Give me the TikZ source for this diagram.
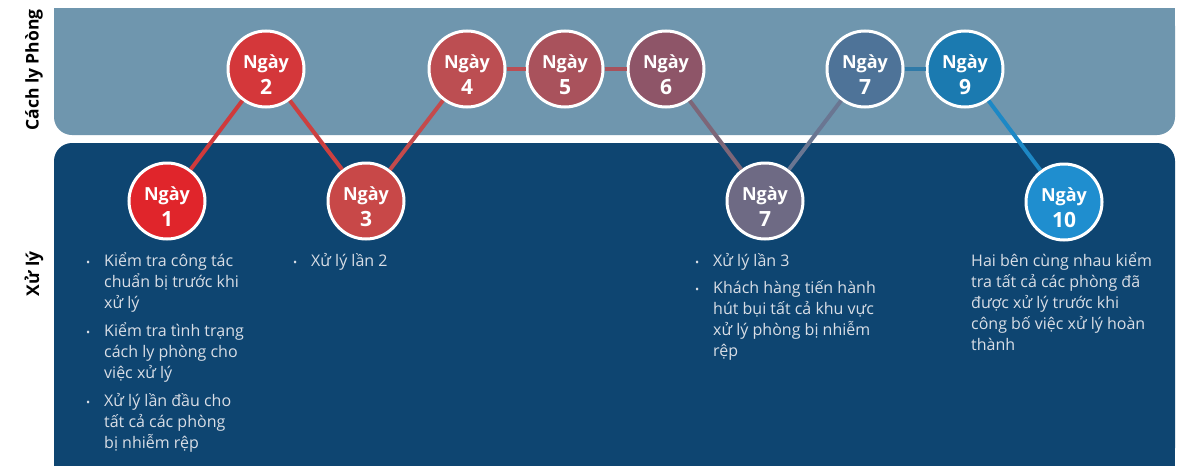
\documentclass[tikz,border=0pt]{standalone}
\usepackage{fontspec}
\setmainfont{Open Sans}
\definecolor{topband}{HTML}{6F96AE}
\definecolor{botband}{HTML}{0E4571}
\definecolor{txtc}{HTML}{D9DEE6}
\definecolor{c1}{HTML}{E0252B}
\definecolor{c2}{HTML}{D4373A}
\definecolor{c3}{HTML}{C84848}
\definecolor{c4}{HTML}{BC4E52}
\definecolor{c5}{HTML}{A9525C}
\definecolor{c6}{HTML}{8E5568}
\definecolor{c7b}{HTML}{6E6A84}
\definecolor{c7t}{HTML}{4E7398}
\definecolor{c9}{HTML}{1B7AB0}
\definecolor{c10}{HTML}{1F8ECF}
\definecolor{l12}{HTML}{D03A3C}
\definecolor{l23}{HTML}{CC4040}
\definecolor{l34}{HTML}{C44A4C}
\definecolor{l45}{HTML}{BB4E54}
\definecolor{l56}{HTML}{A8525C}
\definecolor{l67}{HTML}{7D6678}
\definecolor{l77}{HTML}{6A7692}
\definecolor{l79}{HTML}{2F7AA8}
\definecolor{l910}{HTML}{1D88C5}
\newcommand{\topstrut}{\rule{0pt}{16pt}}
\newcommand{\dtext}[1]{{\fontsize{18}{20}\selectfont Ngày}\\[5pt]{\fontsize{21}{22}\selectfont #1}}
\begin{document}
\begin{tikzpicture}[x=1pt,y=-1pt,
  day/.style={circle,draw=white,line width=3pt,minimum size=76pt,inner sep=0pt,
    text=white,align=center,font=\bfseries,text height=50pt,text depth=0pt},
  link/.style={line width=4pt},
  bul/.style={anchor=base west,inner sep=0pt,text=txtc,font=\fontsize{11}{12}\selectfont},
  desc/.style={anchor=north west,inner sep=0pt,text=txtc,align=left,
    font=\fontsize{16}{21}\selectfont},
  side/.style={rotate=90,font=\fontsize{17.5}{19}\selectfont\bfseries,text=black,inner sep=0pt}
]
\useasboundingbox (0,0) rectangle (1200,466);
\fill[white] (0,0) rectangle (1200,466);
% bands
\fill[topband,rounded corners=18pt] (54,8) rectangle (1175,135);
\fill[topband] (54,8) rectangle (1175,60);
\fill[botband,rounded corners=18pt] (54,143) rectangle (1175,466);
\fill[botband] (54,300) rectangle (1175,466);
% side labels
\node[side] (lab1) at (34,70) {Cách ly Phòng};
\node[side] (lab2) at (34,274) {Xử lý};
% day nodes
\node[day,fill=c1] (d1) at (167,201) {\dtext{1}};
\node[day,fill=c2] (d2) at (266,69) {\dtext{2}};
\node[day,fill=c3] (d3) at (366,201) {\dtext{3}};
\node[day,fill=c4] (d4) at (467,69) {\dtext{4}};
\node[day,fill=c5] (d5) at (565,69) {\dtext{5}};
\node[day,fill=c6] (d6) at (666,69) {\dtext{6}};
\node[day,fill=c7b] (d7b) at (765,201) {\dtext{7}};
\node[day,fill=c7t] (d7t) at (865,69) {\dtext{7}};
\node[day,fill=c9] (d9) at (965,69) {\dtext{9}};
\node[day,fill=c10] (d10) at (1064,202) {\dtext{10}};
% links
\draw[link,l12] (d1) -- (d2);
\draw[link,l23] (d2) -- (d3);
\draw[link,l34] (d3) -- (d4);
\draw[link,l45] (d4) -- (d5);
\draw[link,l56] (d5) -- (d6);
\draw[link,l67] (d6) -- (d7b);
\draw[link,l77] (d7b) -- (d7t);
\draw[link,l79] (d7t) -- (d9);
\draw[link,l910] (d9) -- (d10);
% column 1 (baselines 266, 336, 406)
\node[bul] (b11) at (86,266) {•};
\node[desc] (t11) at (104,250) {\topstrut Kiểm tra công tác\\chuẩn bị trước khi\\xử lý};
\node[bul] (b12) at (86,336) {•};
\node[desc] (t12) at (104,320) {\topstrut Kiểm tra tình trạng\\cách ly phòng cho\\việc xử lý};
\node[bul] (b13) at (86,406) {•};
\node[desc] (t13) at (104,390) {\topstrut Xử lý lần đầu cho\\tất cả các phòng\\bị nhiễm rệp};
% column 2
\node[bul] (b21) at (293,266) {•};
\node[desc] (t21) at (311,250) {\topstrut Xử lý lần 2};
% column 3
\node[bul] (b31) at (695,266) {•};
\node[desc] (t31) at (713,250) {\topstrut Xử lý lần 3};
\node[bul] (b32) at (695,293) {•};
\node[desc] (t32) at (713,277) {\topstrut Khách hàng tiến hành\\hút bụi tất cả khu vực\\xử lý phòng bị nhiễm\\rệp};
% column 4
\node[desc] (t41) at (971,250) {\topstrut Hai bên cùng nhau kiểm\\tra tất cả các phòng đã\\được xử lý trước khi\\công bố việc xử lý hoàn\\thành};
\end{tikzpicture}
\end{document}
